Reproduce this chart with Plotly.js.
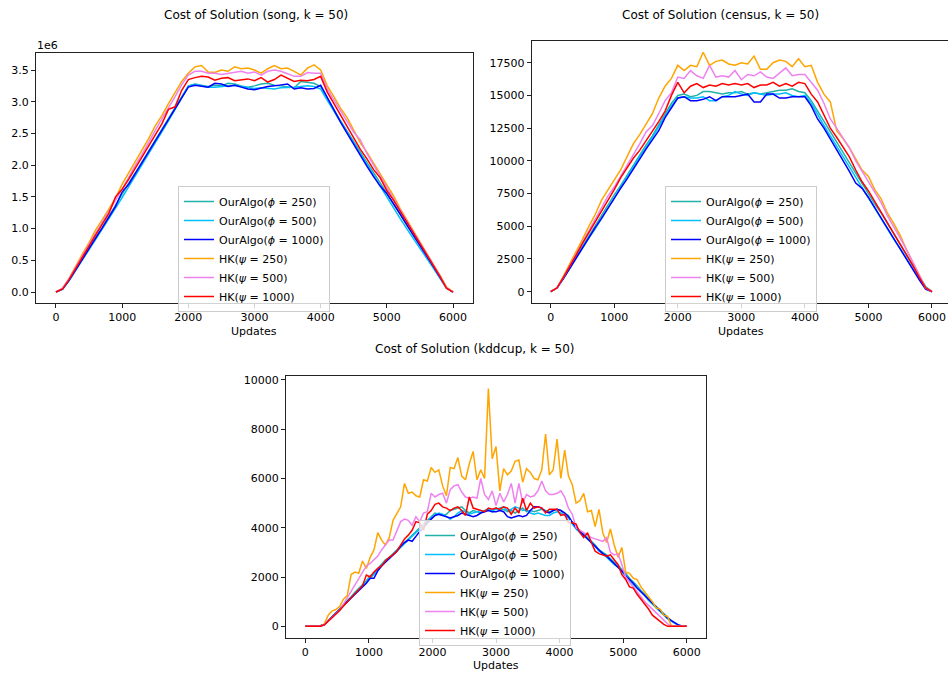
<!DOCTYPE html>
<html>
<head>
<meta charset="utf-8">
<script src="https://cdn.plot.ly/plotly-3.0.1.min.js"></script>
<style>
  html, body { margin: 0; padding: 0; background: #fff; }
  #chart { width: 948px; height: 673px; }
</style>
</head>
<body>
<div id="chart"></div>
<script>
// ---------------- DATA ----------------
const seriesNames = ["OurAlgo(<i>ϕ</i> = 250)", "OurAlgo(<i>ϕ</i> = 500)", "OurAlgo(<i>ϕ</i> = 1000)",
                     "HK(<i>ψ</i> = 250)", "HK(<i>ψ</i> = 500)", "HK(<i>ψ</i> = 1000)"];
const xTickVals = [0, 1000, 2000, 3000, 4000, 5000, 6000];

// song / census: sampled every 100 updates
const xUpdates100 = [0,100,200,300,400,500,600,700,800,900,
  1000,1100,1200,1300,1400,1500,1600,1700,1800,1900,
  2000,2100,2200,2300,2400,2500,2600,2700,2800,2900,
  3000,3100,3200,3300,3400,3500,3600,3700,3800,3900,
  4000,4100,4200,4300,4400,4500,4600,4700,4800,4900,
  5000,5100,5200,5300,5400,5500,5600,5700,5800,5900,
  6000];

// song values in units of 1e6
const songOurAlgo250 = [0,0.05,0.2,0.37,0.53,0.7,0.86,1.02,1.2,1.37,
  1.55,1.72,1.88,2.05,2.22,2.39,2.56,2.73,2.9,3.07,
  3.25,3.28,3.26,3.24,3.26,3.25,3.29,3.28,3.25,3.23,
  3.25,3.28,3.29,3.26,3.25,3.24,3.22,3.32,3.31,3.29,
  3.24,3.05,2.88,2.7,2.53,2.37,2.2,2.04,1.88,1.72,
  1.57,1.4,1.24,1.07,0.9,0.75,0.58,0.41,0.25,0.07,
  0];
const songOurAlgo500 = [0,0.04,0.18,0.35,0.51,0.67,0.83,0.99,1.15,1.32,
  1.49,1.66,1.83,2.0,2.17,2.35,2.52,2.7,2.88,3.05,
  3.24,3.27,3.25,3.23,3.23,3.24,3.25,3.26,3.24,3.22,
  3.21,3.22,3.21,3.2,3.22,3.22,3.23,3.24,3.25,3.24,
  3.2,3.02,2.85,2.67,2.5,2.33,2.16,2.0,1.83,1.67,
  1.5,1.33,1.16,1.0,0.85,0.7,0.54,0.38,0.22,0.06,
  0];
const songOurAlgo1000 = [0,0.05,0.19,0.36,0.52,0.69,0.85,1.01,1.18,1.35,
  1.58,1.7,1.87,2.04,2.21,2.38,2.55,2.72,2.9,3.07,
  3.23,3.26,3.25,3.23,3.29,3.28,3.24,3.26,3.23,3.2,
  3.19,3.22,3.24,3.25,3.26,3.28,3.2,3.22,3.2,3.21,
  3.26,3.06,2.87,2.68,2.5,2.32,2.15,1.98,1.82,1.67,
  1.55,1.4,1.23,1.06,0.9,0.75,0.58,0.41,0.24,0.07,
  0];
const songHK250 = [0,0.06,0.22,0.42,0.6,0.78,0.98,1.14,1.3,1.48,
  1.7,1.88,2.05,2.22,2.42,2.62,2.78,2.97,3.15,3.32,
  3.45,3.55,3.57,3.47,3.46,3.5,3.48,3.55,3.52,3.53,
  3.5,3.45,3.52,3.57,3.52,3.53,3.48,3.42,3.53,3.58,
  3.5,3.25,3.08,2.9,2.75,2.55,2.35,2.2,2.03,1.85,
  1.68,1.52,1.32,1.14,0.96,0.8,0.62,0.44,0.27,0.08,
  0];
const songHK500 = [0,0.06,0.21,0.4,0.57,0.75,0.93,1.1,1.27,1.45,
  1.62,1.82,2.0,2.17,2.37,2.55,2.73,2.9,3.08,3.27,
  3.42,3.48,3.48,3.45,3.45,3.43,3.45,3.47,3.48,3.45,
  3.47,3.42,3.48,3.5,3.48,3.44,3.4,3.4,3.46,3.45,
  3.45,3.2,3.03,2.86,2.7,2.52,2.4,2.18,2.0,1.82,
  1.65,1.48,1.3,1.12,0.95,0.78,0.6,0.43,0.26,0.07,
  0];
const songHK1000 = [0,0.05,0.2,0.38,0.56,0.73,0.9,1.07,1.24,1.5,
  1.62,1.78,1.95,2.12,2.3,2.48,2.65,2.88,2.92,3.18,
  3.35,3.38,3.4,3.39,3.34,3.37,3.38,3.33,3.35,3.36,
  3.33,3.38,3.31,3.35,3.42,3.37,3.32,3.34,3.33,3.35,
  3.4,3.15,2.97,2.8,2.6,2.42,2.25,2.1,1.93,1.8,
  1.6,1.45,1.28,1.1,0.93,0.76,0.59,0.42,0.25,0.06,
  0];
const songYTickVals = [0, 0.5, 1.0, 1.5, 2.0, 2.5, 3.0, 3.5];

const censusOurAlgo250 = [0,300,1100,1900,2700,3500,4300,5000,5800,6600,
  7400,8100,8900,9700,10400,11200,11900,12700,13500,14400,
  15000,15100,14900,15000,15300,15300,15200,15100,15200,15200,
  15300,15100,15200,15100,15200,15300,15400,15400,15500,15300,
  15200,14600,13800,13000,12200,11400,10600,9800,9000,8300,
  7500,6700,6000,5200,4400,3600,2800,2000,1200,400,
  0];
const censusOurAlgo500 = [0,280,1000,1800,2550,3300,4100,4800,5600,6400,
  7200,7900,8700,9500,10300,11000,11800,12600,13400,14200,
  14800,14900,14800,14800,14900,14600,14600,14900,15000,15300,
  15100,15000,15200,15100,15000,15100,15100,15200,15000,14900,
  15000,14400,13500,12700,11900,11100,10300,9500,8700,7900,
  7200,6400,5600,4800,4000,3300,2500,1700,1000,300,
  0];
const censusOurAlgo1000 = [0,280,1000,1800,2600,3400,4100,4900,5600,6400,
  7100,7900,8600,9400,10200,10900,11600,12300,13300,14000,
  14800,14900,14600,14600,14700,14900,14600,14900,14900,14900,
  15000,15100,14500,14500,15100,15100,14800,14800,14900,14900,
  14900,14200,13200,12500,11700,10800,10000,9200,8300,7900,
  7200,6400,5600,4800,4000,3200,2400,1600,900,200,
  0];
const censusHK250 = [0,300,1200,2100,3100,4000,5000,5900,7000,7800,
  8500,9300,10300,11300,12000,12800,13600,14800,15700,16300,
  17300,16900,17300,17200,18300,17300,17600,17700,17400,17300,
  17500,17400,18000,17000,17000,17500,17700,17600,17200,17800,
  17200,17300,16000,15100,14500,12300,11700,11000,10100,9300,
  8800,7800,7100,6000,5200,4300,3200,2200,1300,300,
  0];
const censusHK500 = [0,300,1100,2000,2900,3800,4700,5600,6400,7300,
  8000,8800,9700,10400,11300,12200,12700,13600,14600,15200,
  16400,16300,16900,16500,16300,17300,16400,16500,16400,16900,
  16200,16600,16500,16800,16400,16300,16700,17100,16500,16600,
  16600,16000,15400,14400,13200,12500,11700,11000,10000,9200,
  8500,7600,6800,5800,5000,4100,3200,2200,1300,300,
  0];
const censusHK1000 = [0,300,1100,1900,2800,3700,4500,5300,6100,6900,
  7800,8700,9500,10200,10800,11500,12300,13000,13800,15000,
  16000,15200,15700,15900,15600,15800,15700,15900,15800,15900,
  15800,15900,15600,15800,15800,16000,15700,15900,15700,16000,
  15900,15100,14500,13500,12500,11800,11000,10300,9300,8400,
  7700,6900,6100,5200,4500,3700,2800,2000,1100,300,
  0];
const censusYTickVals = [0, 2500, 5000, 7500, 10000, 12500, 15000, 17500];

// kddcup: sampled every 60 updates
const xUpdates60 = [0,60,120,180,240,300,360,420,480,540,
  600,660,720,780,840,900,960,1020,1080,1140,
  1200,1260,1320,1380,1440,1500,1560,1620,1680,1740,
  1800,1860,1920,1980,2040,2100,2160,2220,2280,2340,
  2400,2460,2520,2580,2640,2700,2760,2820,2880,2940,
  3000,3060,3120,3180,3240,3300,3360,3420,3480,3540,
  3600,3660,3720,3780,3840,3900,3960,4020,4080,4140,
  4200,4260,4320,4380,4440,4500,4560,4620,4680,4740,
  4800,4860,4920,4980,5040,5100,5160,5220,5280,5340,
  5400,5460,5520,5580,5640,5700,5760,5820,5880,5940,
  6000];
const kddOurAlgo250 = [0,0,0,0,20,80,230,380,520,700,
  880,1030,1200,1380,1530,1700,1850,2050,2150,2350,
  2550,2700,2800,2950,3100,3250,3400,3550,3700,3850,
  4000,4150,4300,4450,4600,4550,4500,4550,4700,4750,
  4800,4850,4700,4600,4700,4650,4600,4700,4750,4650,
  4800,4700,4750,4650,4700,4600,4700,4800,4650,4700,
  4650,4700,4750,4700,4650,4700,4750,4700,4600,4500,
  4200,4000,3850,3750,3600,3450,3300,3100,3000,2900,
  2750,2600,2500,2300,2150,1950,1800,1650,1450,1300,
  1100,950,800,650,480,330,220,120,40,0,
  0];
const kddOurAlgo500 = [0,0,0,0,20,70,210,350,490,650,
  830,980,1140,1320,1480,1650,1800,1950,2100,2280,
  2480,2620,2750,2900,3050,3200,3350,3500,3650,3800,
  3950,4100,4250,4400,4500,4600,4550,4450,4350,4450,
  4600,4700,4650,4550,4600,4650,4700,4650,4750,4700,
  4750,4800,4850,4700,4750,4850,4800,4700,4750,4600,
  4550,4600,4550,4500,4500,4600,4650,4600,4500,4400,
  4150,3950,3800,3700,3550,3400,3250,3050,2950,2800,
  2650,2500,2400,2200,2050,1850,1700,1550,1400,1250,
  1050,900,750,600,430,300,200,100,30,0,
  0];
const kddOurAlgo1000 = [0,0,0,0,20,80,220,370,500,680,
  850,1000,1150,1300,1450,1600,1750,1950,1950,2250,
  2450,2600,2750,2900,3050,3250,3400,3500,3450,3650,
  3850,4000,4200,4350,4500,4550,4500,4450,4400,4450,
  4500,4600,4550,4500,4450,4500,4600,4650,4700,4650,
  4650,4700,4650,4450,4400,4450,4500,4450,4500,4700,
  4850,4850,4800,4650,4600,4700,4750,4700,4600,4450,
  4250,4000,3850,3700,3550,3400,3250,3100,2950,2850,
  2700,2550,2400,2250,2050,1900,1750,1550,1400,1250,
  1100,950,800,630,470,330,230,120,40,0,
  0];
const kddHK250 = [0,0,0,0,0,100,450,620,680,800,
  1100,1250,2100,2200,2150,2650,2350,2800,3100,3800,
  3500,3300,3600,4300,4600,4850,5800,5400,5450,5300,
  5250,5950,5900,6450,6250,6350,5700,5300,6450,6400,
  6850,6100,5950,6600,7100,5950,6350,6000,9650,6800,
  7300,5500,6400,6150,6300,6700,6750,5850,6400,6250,
  6000,5950,6350,7800,6150,6350,7600,6000,7150,6100,
  5750,5000,5100,5400,4650,4700,4050,4750,3800,3400,
  3950,3300,2800,3200,2200,2150,1950,1900,1600,1400,
  1200,1000,750,700,450,400,0,0,0,0,
  0];
const kddHK500 = [0,0,0,0,0,80,230,380,500,650,
  900,1150,1450,1650,1950,2150,2450,2550,2700,2850,
  3100,3300,3500,3500,3850,4250,4350,4300,4100,4450,
  4250,4600,4650,5400,5250,5350,5400,5000,5550,5700,
  5750,5450,5250,5200,5250,5200,6000,5350,5150,5500,
  4900,5400,5050,5350,5800,5000,5800,5000,5350,5250,
  5300,5500,5900,5500,5350,5350,5400,5500,5250,4800,
  4550,4000,3900,3800,3700,3600,3550,3500,3450,3600,
  3000,2900,2950,2500,2000,1800,1600,1400,1200,1000,
  850,700,550,400,250,100,0,0,0,0,
  0];
const kddHK1000 = [0,0,0,0,0,60,200,350,480,640,
  820,980,1150,1330,1480,1650,2080,2000,2200,2350,
  2450,2650,2800,2900,3050,3300,3550,3700,3900,4250,
  4200,3900,4550,4700,4950,5000,4850,4800,4700,4800,
  4850,4700,4500,5250,4800,4750,4700,4650,4800,4750,
  4800,4750,4850,4800,4550,4800,4600,5200,4700,5000,
  4800,4850,4800,4600,4750,4750,4750,4500,4550,4200,
  4200,4150,3800,3600,3800,3400,3050,2950,2900,2850,
  2900,2700,2500,2100,1900,1600,1550,1300,1100,900,
  700,450,320,200,80,0,0,0,0,0,
  0];
const kddYTickVals = [0, 2000, 4000, 6000, 8000, 10000];

// ---------------- STYLE ----------------
const colors = ["lightseagreen", "deepskyblue", "blue", "orange", "violet", "red"];
const FONT = "DejaVu Sans, sans-serif";

const panels = [
  {x: xUpdates100, ys: [songOurAlgo250, songOurAlgo500, songOurAlgo1000, songHK250, songHK500, songHK1000], xa: "x", ya: "y", legend: "legend"},
  {x: xUpdates100, ys: [censusOurAlgo250, censusOurAlgo500, censusOurAlgo1000, censusHK250, censusHK500, censusHK1000], xa: "x2", ya: "y2", legend: "legend2"},
  {x: xUpdates60, ys: [kddOurAlgo250, kddOurAlgo500, kddOurAlgo1000, kddHK250, kddHK500, kddHK1000], xa: "x3", ya: "y3", legend: "legend3"}
];

const traces = [];
panels.forEach(p => {
  p.ys.forEach((y, i) => {
    traces.push({
      type: "scatter", mode: "lines",
      x: p.x, y: y,
      name: seriesNames[i],
      line: {color: colors[i], width: 1.5},
      xaxis: p.xa, yaxis: p.ya,
      legend: p.legend
    });
  });
});

function axisBase(extra) {
  return Object.assign({
    showline: true, mirror: true, linecolor: "#222", linewidth: 1,
    ticks: "outside", ticklen: 4, tickwidth: 1, tickcolor: "#222",
    showgrid: false, zeroline: false,
    tickfont: {family: FONT, size: 11, color: "#000"},
    fixedrange: true
  }, extra);
}

const legendBase = {
  xanchor: "left", yanchor: "top",
  bgcolor: "rgba(255,255,255,0.8)", bordercolor: "#cccccc", borderwidth: 1,
  font: {family: FONT, size: 11, color: "#000"},
  itemwidth: 30, tracegroupgap: 0
};

const W = 948, H = 673;
const layout = {
  width: W, height: H,
  margin: {l: 0, r: 0, t: 0, b: 0},
  paper_bgcolor: "#fff", plot_bgcolor: "#fff",
  font: {family: FONT, size: 11, color: "#000"},
  showlegend: true,
  xaxis: axisBase({domain: [36/W, 473/W], range: [-302, 6302], tickvals: xTickVals, tickformat: "d", anchor: "y"}),
  yaxis: axisBase({domain: [(H-303)/H, (H-52.7)/H], range: [-0.173, 3.773], tickvals: songYTickVals, tickformat: ".1f", anchor: "x"}),
  xaxis2: axisBase({domain: [531.7/W, 1.0], range: [-299, 6252], tickvals: xTickVals, tickformat: "d", anchor: "y2"}),
  yaxis2: axisBase({domain: [(H-303)/H, (H-40.7)/H], range: [-864, 19181], tickvals: censusYTickVals, tickformat: "d", anchor: "x2"}),
  xaxis3: axisBase({domain: [286/W, 705.7/W], range: [-304, 6299], tickvals: xTickVals, tickformat: "d", anchor: "y3"}),
  yaxis3: axisBase({domain: [(H-637.7)/H, (H-376)/H], range: [-463, 10162], tickvals: kddYTickVals, tickformat: "d", anchor: "x3"}),
  legend: Object.assign({}, legendBase, {x: 178/W, y: 1 - 186/H}),
  legend2: Object.assign({}, legendBase, {x: 665/W, y: 1 - 186/H}),
  legend3: Object.assign({}, legendBase, {x: 419/W, y: 1 - 520/H}),
  annotations: [
    {text: "Cost of Solution (song, k = 50)", x: 256/W, y: 1 - 15/H, xref: "paper", yref: "paper", xanchor: "center", yanchor: "middle", showarrow: false, font: {family: FONT, size: 12, color: "#000"}},
    {text: "Cost of Solution (census, k = 50)", x: 720/W, y: 1 - 15/H, xref: "paper", yref: "paper", xanchor: "center", yanchor: "middle", showarrow: false, font: {family: FONT, size: 12, color: "#000"}},
    {text: "Cost of Solution (kddcup, k = 50)", x: 474/W, y: 1 - 349/H, xref: "paper", yref: "paper", xanchor: "center", yanchor: "middle", showarrow: false, font: {family: FONT, size: 12, color: "#000"}},
    {text: "1e6", x: 35/W, y: 1 - 45.5/H, xref: "paper", yref: "paper", xanchor: "left", yanchor: "middle", showarrow: false, font: {family: FONT, size: 11, color: "#000"}},
    {text: "Updates", x: 254/W, y: 1 - 331/H, xref: "paper", yref: "paper", xanchor: "center", yanchor: "middle", showarrow: false, font: {family: FONT, size: 11, color: "#000"}},
    {text: "Updates", x: 741/W, y: 1 - 331/H, xref: "paper", yref: "paper", xanchor: "center", yanchor: "middle", showarrow: false, font: {family: FONT, size: 11, color: "#000"}},
    {text: "Updates", x: 496/W, y: 1 - 665/H, xref: "paper", yref: "paper", xanchor: "center", yanchor: "middle", showarrow: false, font: {family: FONT, size: 11, color: "#000"}}
  ]
};

Plotly.newPlot("chart", traces, layout, {displayModeBar: false, staticPlot: true});
</script>
</body>
</html>
